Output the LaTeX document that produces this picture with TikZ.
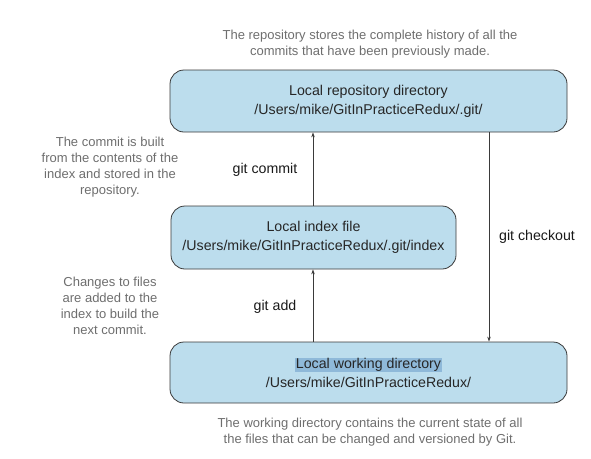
\documentclass[tikz,border=0pt]{standalone}
\usepackage{fontspec}
\setmainfont{Liberation Sans}
\usetikzlibrary{arrows.meta}
\definecolor{boxfill}{HTML}{BCDDED}
\definecolor{boxline}{HTML}{3A3A3A}
\definecolor{notegrey}{HTML}{6E6E6E}
\definecolor{hl}{HTML}{8FB9D9}
\begin{document}
\begin{tikzpicture}[x=1pt,y=-1pt,
  gitbox/.style={draw=boxline,fill=boxfill,rounded corners=14pt,line width=0.8pt,
     align=center,font=\fontsize{14.2}{19}\selectfont,text=black!85,inner sep=0pt},
  note/.style={align=center,text=notegrey,font=\fontsize{13}{16}\selectfont},
  cmd/.style={font=\fontsize{14.2}{17}\selectfont,text=black!90},
  conn/.style={draw=boxline,line width=0.7pt,-{Stealth[length=5pt,width=3.5pt]}}]
\useasboundingbox (0,0) rectangle (591,458);
\node[gitbox,minimum width=397pt,minimum height=62pt] (repo) at (368.5,101)
  {Local repository directory\\/Users/mike/GitInPracticeRedux/.git/};
\node[gitbox,minimum width=285pt,minimum height=63pt] (index) at (313.5,237.5)
  {Local index file\\/Users/mike/GitInPracticeRedux/.git/index};
\node[gitbox,minimum width=397pt,minimum height=61pt] (work) at (368.5,372.5)
  {{\fboxsep=0.5pt\colorbox{hl}{Local working directory}}\\/Users/mike/GitInPracticeRedux/};
\coordinate (ca) at (313,0);
\draw[conn] (index.north -| ca) -- (repo.south -| ca);
\draw[conn] (work.north -| ca) -- (index.south -| ca);
\coordinate (cb) at (489,0);
\draw[conn] (repo.south -| cb) -- (work.north -| cb);
\node[cmd] (lcommit) at (265,170) {git commit};
\node[cmd] (ladd) at (275,307) {git add};
\node[cmd] (lcheckout) at (537,237) {git checkout};
\node[note] (ntop) at (370,44) {The repository stores the complete history of all the\\commits that have been previously made.};
\node[note] (ncommit) at (110,167) {The commit is built\\from the contents of the\\index and stored in the\\repository.};
\node[note] (nadd) at (110,306) {Changes to files\\are added to the\\index to build the\\next commit.};
\node[note] (nbot) at (370,432) {The working directory contains the current state of all\\the files that can be changed and versioned by Git.};
\end{tikzpicture}
\end{document}
